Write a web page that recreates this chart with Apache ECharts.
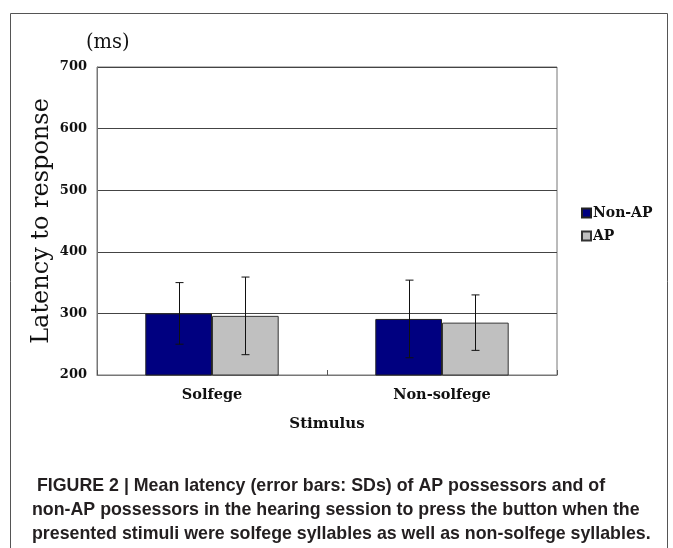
<!DOCTYPE html>
<html>
<head>
<meta charset="utf-8">
<script src="https://cdn.jsdelivr.net/npm/echarts@6/dist/echarts.min.js"></script>
<style>
html,body{margin:0;padding:0;background:#fff;}
#chart{width:673px;height:548px;}
</style>
</head>
<body>
<div id="chart"></div>
<script>
var categories = ['Solfege', 'Non-solfege'];
var seriesNames = ['Non-AP', 'AP'];
var nonAPMean = [300, 291];
var apMean = [296, 285];
var nonAPSD = [50, 63];
var apSD = [63, 45];
var yTicks = { min: 200, max: 700, interval: 100 };
var captionLines = [
  ' FIGURE 2 | Mean latency (error bars: SDs) of AP possessors and of',
  'non-AP possessors in the hearing session to press the button when the',
  'presented stimuli were solfege syllables as well as non-solfege syllables.'
];

var serif = '"DejaVu Serif", "Liberation Serif", serif';
var capFont = '"Liberation Sans", "Arial", sans-serif';
var chart = echarts.init(document.getElementById('chart'), null, {renderer: 'canvas'});

var GAP = 0.42;
function errData(means, sds) {
  return means.map(function (m, i) { return [i, m - sds[i], m + sds[i]]; });
}
function errSeries(name, means, sds, side) {
  return {
    type: 'custom',
    name: name + ' SD',
    data: errData(means, sds),
    z: 10,
    silent: true,
    renderItem: function (params, api) {
      var band = api.size([1, 0])[0];
      var bw = band * (1 - GAP) / 2;
      var lo = api.coord([api.value(0), api.value(1)]);
      var hi = api.coord([api.value(0), api.value(2)]);
      var x = Math.round(lo[0] + side * bw / 2) + 0.5;
      var c = 4;
      var st = {stroke: '#111', lineWidth: 1};
      return {
        type: 'group',
        children: [
          {type: 'line', shape: {x1: x, y1: hi[1], x2: x, y2: lo[1]}, style: st},
          {type: 'line', shape: {x1: x - c, y1: hi[1], x2: x + c, y2: hi[1]}, style: st},
          {type: 'line', shape: {x1: x - c, y1: lo[1], x2: x + c, y2: lo[1]}, style: st}
        ]
      };
    }
  };
}

var graphics = [
  {type: 'rect', shape: {x: 10.5, y: 13.5, width: 657, height: 560}, style: {fill: 'none', stroke: '#555', lineWidth: 1}, silent: true, z: -10},
  {type: 'text', left: 86, top: 33, style: {text: '(ms)', font: 'normal 19.5px ' + serif, fill: '#111'}}
];
var capY = [486, 510, 534];
captionLines.forEach(function (t, i) {
  graphics.push({type: 'text', x: 32, y: capY[i], style: {text: t, font: 'bold 17.8px ' + capFont, fill: '#231f20', textVerticalAlign: 'middle', textAlign: 'left'}});
});

chart.setOption({
  animation: false,
  backgroundColor: '#fff',
  grid: {left: 97, top: 67, width: 460, height: 308, show: true, borderColor: '#777', borderWidth: 1, backgroundColor: 'transparent'},
  legend: {
    orient: 'vertical', left: 576, top: 201,
    itemWidth: 9, itemHeight: 9, itemGap: 9,
    icon: 'rect',
    data: seriesNames,
    textStyle: {fontFamily: serif, fontWeight: 'bold', fontSize: 14, color: '#111', lineHeight: 14, padding: [0, 0, 0, -3]}
  },
  xAxis: {
    type: 'category', data: categories,
    axisLine: {show: true, lineStyle: {color: '#777'}},
    axisTick: {show: true, inside: true, length: 5, lineStyle: {color: '#555'}},
    axisLabel: {fontFamily: serif, fontWeight: 'bold', fontSize: 14.5, color: '#111', margin: 13},
    name: 'Stimulus', nameLocation: 'middle', nameGap: 42,
    nameTextStyle: {fontFamily: serif, fontWeight: 'bold', fontSize: 15, color: '#111'}
  },
  yAxis: {
    type: 'value', min: yTicks.min, max: yTicks.max, interval: yTicks.interval,
    axisLine: {show: true, lineStyle: {color: '#777'}},
    axisTick: {show: false},
    splitLine: {show: true, lineStyle: {color: '#444', width: 1}},
    axisLabel: {fontFamily: serif, fontWeight: 'bold', fontSize: 13, color: '#111', margin: 10},
    name: 'Latency to response', nameLocation: 'middle', nameRotate: 90, nameGap: 43,
    nameMoveOverlap: false,
    nameTextStyle: {fontFamily: serif, fontSize: 24, color: '#111'}
  },
  series: [
    {type: 'bar', name: seriesNames[0], data: nonAPMean, barGap: '0%', barCategoryGap: '42%',
     itemStyle: {color: '#000080', borderColor: '#222', borderWidth: 1}},
    {type: 'bar', name: seriesNames[1], data: apMean, barGap: '0%', barCategoryGap: '42%',
     itemStyle: {color: '#c0c0c0', borderColor: '#333', borderWidth: 1}},
    errSeries(seriesNames[0], nonAPMean, nonAPSD, -1),
    errSeries(seriesNames[1], apMean, apSD, 1)
  ],
  graphic: graphics
});
</script>
</body>
</html>
